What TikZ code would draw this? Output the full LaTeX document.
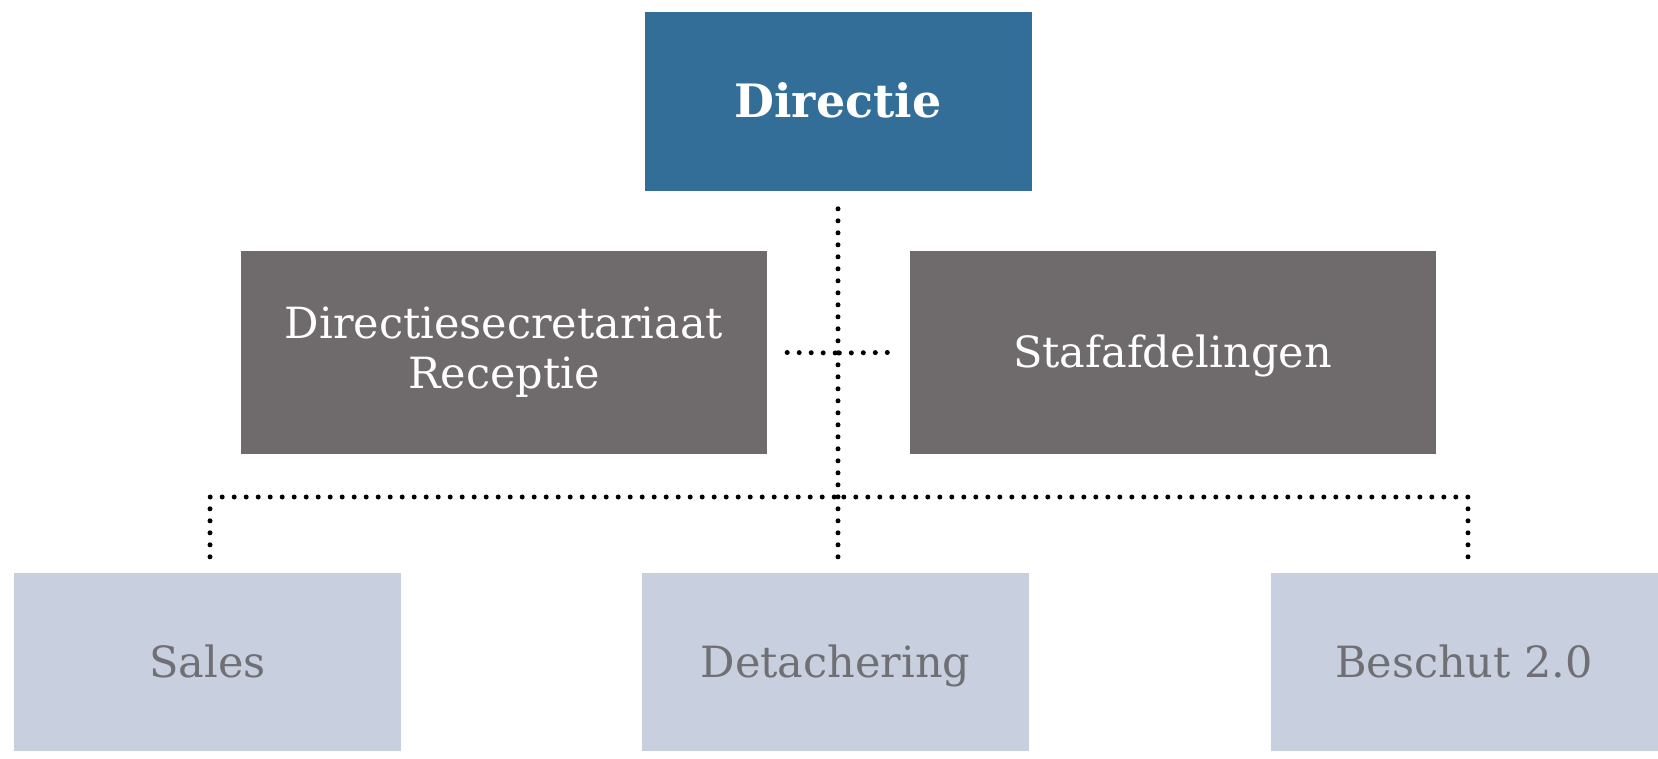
\documentclass[tikz,border=0pt]{standalone}
\usepackage{fontspec}
\setmainfont{DejaVu Serif}
\definecolor{dirblue}{RGB}{51,110,153}
\definecolor{boxgray}{RGB}{111,106,107}
\definecolor{lightbox}{RGB}{200,208,224}
\definecolor{lighttext}{RGB}{112,112,116}
\begin{document}
\begin{tikzpicture}[x=1pt,y=-1pt,
  box/.style={rectangle, inner sep=0pt, align=center},
  oneline/.style={text height=32pt, text depth=2pt},
  topbox/.style={box, fill=dirblue, text=white, minimum width=387pt, minimum height=179pt, text height=34pt, text depth=2pt, font=\fontsize{46}{54}\selectfont\bfseries},
  midbox/.style={box, fill=boxgray, text=white, minimum width=526pt, minimum height=203pt, font=\fontsize{43}{50}\selectfont},
  lowbox/.style={box, oneline, fill=lightbox, text=lighttext, minimum width=387pt, minimum height=178pt, font=\fontsize{43}{50}\selectfont},
  dotline/.style={draw=black, line width=5pt, line cap=round, dash pattern=on 0pt off 12pt}
]
\useasboundingbox (0,0) rectangle (1658,759);
\node[topbox] (dir) at (838,101.5) {Directie};
\node[midbox] (sec) at (504,352.5) {Directiesecretariaat\\Receptie};
\node[midbox, oneline] (staf) at (1172.5,352.5) {Stafafdelingen};
\node[lowbox] (sales) at (207.5,662) {Sales};
\node[lowbox] (det) at (835.5,662) {Detachering};
\node[lowbox] (besch) at (1464,662) {Beschut 2.0};
\coordinate (hubmid) at (838,353);
\coordinate (hublow) at (838,497);
\draw[dotline] ([xshift=2.5pt,yshift=16pt]det.north) -- ([yshift=-16.5pt]dir.south);
\draw[dotline] ([xshift=20pt]sec.east) -- (hubmid);
\draw[dotline] ([xshift=-22pt]staf.west) -- (hubmid);
\draw[dotline] ([xshift=2.5pt,yshift=16pt]sales.north) |- (hublow);
\draw[dotline] ([xshift=4pt,yshift=16pt]besch.north) |- (hublow);
\end{tikzpicture}
\end{document}
